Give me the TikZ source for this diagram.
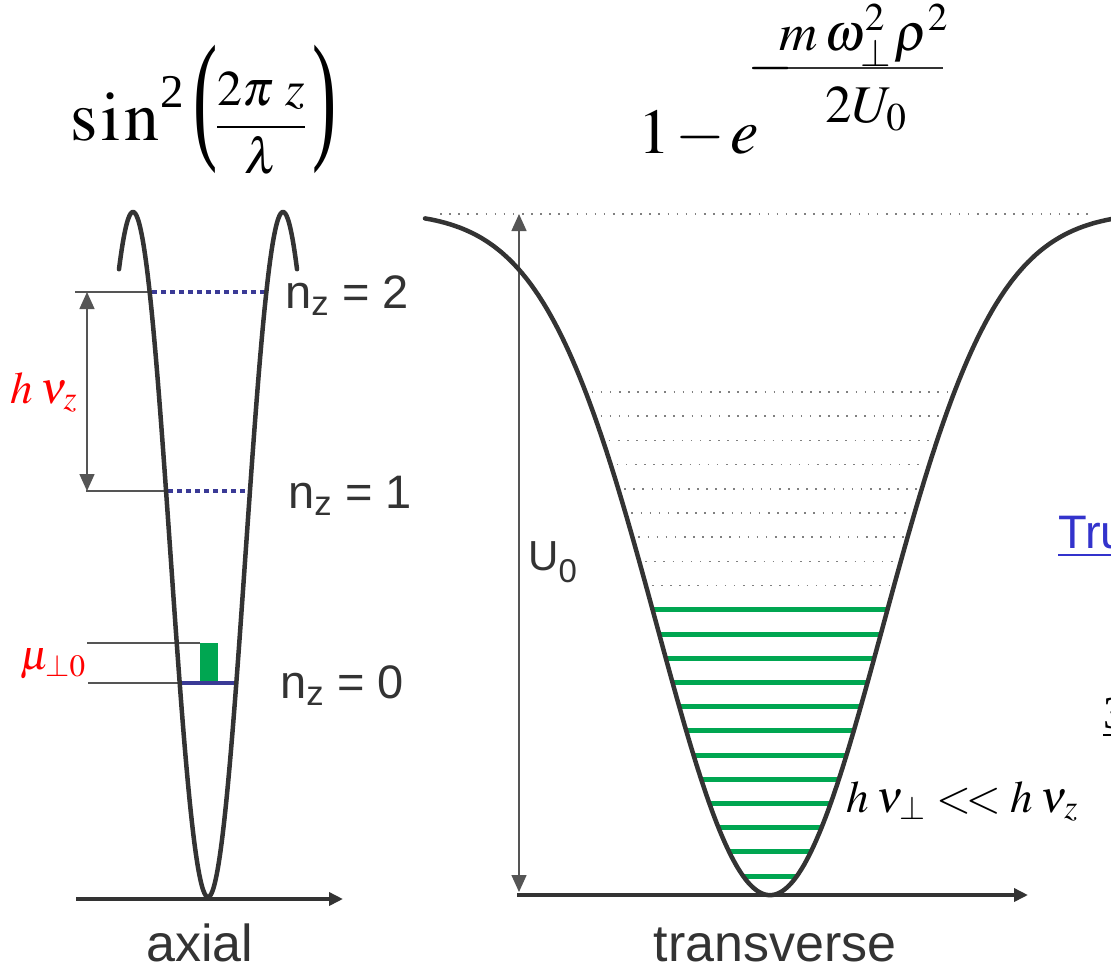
\documentclass[tikz,border=0pt]{standalone}
\usepackage{mathptmx}
\usepackage{fontspec}
\setmainfont{Liberation Serif}
\newfontfamily\arial{Liberation Sans}
\usetikzlibrary{arrows.meta}
\definecolor{curvec}{HTML}{333333}
\definecolor{navy}{HTML}{3A3A96}
\definecolor{grn}{HTML}{00A651}
\definecolor{linkblue}{HTML}{3333CC}
\definecolor{thin}{HTML}{555555}
\begin{document}
\begin{tikzpicture}[x=1pt,y=-1pt,
 well/.style={line width=4.5pt, color=curvec, line cap=round},
 axisline/.style={line width=4.5pt, color=curvec, -{Triangle[length=14pt,width=13pt]}},
 guide/.style={line width=1.3pt, color=thin},
 dimarrow/.style={line width=1.5pt, color=thin, {Triangle[length=17pt,width=15pt]}-{Triangle[length=17pt,width=15pt]}},
 bluedot/.style={line width=4pt, color=navy, dash pattern=on 5pt off 4pt},
 bluesolid/.style={line width=4pt, color=navy},
 graydot/.style={line width=1.6pt, color=gray, dash pattern=on 1.6pt off 7.5pt},
 greenlev/.style={line width=5pt, color=grn},
 lab/.style={font=\arial\fontsize{47}{52}\selectfont, text=curvec, inner sep=0pt},
 mth/.style={inner sep=0pt},
]
\useasboundingbox (0,0) rectangle (1111,972);

% ---------------- formulas ----------------
\node[mth, font=\fontsize{70}{76}\selectfont, anchor=base west] (sinf) at (70,140) {$\mathrm{s\mkern1mu i\mkern1mu n}$};
\node[mth, font=\fontsize{47}{52}\selectfont, anchor=base west] (sinsq) at (160,107) {2};
\node[mth, font=\fontsize{66}{72}\selectfont] (lpar) at (206,109) {\scalebox{1.1}[2.15]{(}};
\node[mth, font=\fontsize{50}{56}\selectfont, anchor=base] (frac) at (261,139) {$\displaystyle\frac{2\pi\mkern4mu z}{\lambda}$};
\node[mth, font=\fontsize{66}{72}\selectfont] (rpar) at (325,109) {\scalebox{1.1}[2.15]{)}};
\node[mth, font=\fontsize{64}{70}\selectfont, anchor=base west] (onee) at (638,153) {$1\mkern-1mu-\mkern-1mu e$};
\node[mth, font=\fontsize{60}{66}\selectfont] (eminus) at (771,68) {$-$};
\coordinate (barL) at (788,68); \coordinate (barR) at (943,68);
\draw[line width=2.4pt, color=curvec] (barL) -- (barR);
\node[mth, font=\fontsize{53}{58}\selectfont, anchor=base] (expnum) at (864,50) {$m\mkern2mu\omega_\perp^2\mkern1mu\rho^2$};
\node[mth, font=\fontsize{53}{58}\selectfont, anchor=base] (expden) at (866,122) {$2U_{0}$};

% ---------------- axial panel ----------------
\coordinate (n2g) at (75,292);  \coordinate (n2L) at (152,292); \coordinate (n2R) at (266,292);
\coordinate (n1g) at (86,491);  \coordinate (n1L) at (168,491); \coordinate (n1R) at (250,491);
\coordinate (n0g) at (88,683);  \coordinate (n0L) at (182,683); \coordinate (n0R) at (237,683);
\coordinate (mug) at (87,643);  \coordinate (mut) at (200,643);
\coordinate (a2) at (87,292);   \coordinate (a1) at (87,491);
\coordinate (axL) at (76,899);  \coordinate (axR) at (343,899);

\draw[guide] (n2g) -- (n2L);
\draw[guide] (n1g) -- (n1L);
\draw[guide] (n0g) -- (n0L);
\draw[guide] (mug) -- (mut);
\draw[dimarrow] (a2) -- (a1);
\fill[grn] (200,643) rectangle (218,681);
\draw[bluedot] (n2L) -- (n2R);
\draw[bluedot] (n1L) -- (n1R);
\draw[bluesolid] (n0L) -- (n0R);

\draw[well] plot[domain=119:297, samples=300, smooth] (\x, {212+342.5*(1+cos(2.4*(\x-208)))});
\draw[axisline] (axL) -- (axR);

\node[lab, anchor=base west] (lz2) at (285,308) {n\textsubscript{z} = 2};
\node[lab, anchor=base west] (lz1) at (288,508) {n\textsubscript{z} = 1};
\node[lab, anchor=base west] (lz0) at (280,698) {n\textsubscript{z} = 0};
\node[mth, anchor=base west, text=red, font=\fontsize{45}{50}\selectfont] (hnuz) at (10,403) {$h\mkern3mu\nu_z$};
\node[mth, anchor=base west, text=red, font=\fontsize{42}{50}\selectfont] (mu) at (20,669) {$\mu_{\perp0}$};
\node[lab, anchor=base, font=\arial\fontsize{52}{58}\selectfont] (axial) at (200,961) {axial};

% ---------------- transverse panel ----------------
\coordinate (topL) at (440,214); \coordinate (topR) at (1095,214);
\coordinate (u0t) at (519,214);  \coordinate (u0b) at (519,892);
\coordinate (txL) at (517,895);  \coordinate (txR) at (1028,895);

\draw[graydot] (topL) -- (topR);
\foreach \k in {12,...,20}{
  \pgfmathsetmacro{\yy}{876-24.2*\k}
  \pgfmathsetmacro{\dx}{159.67*sqrt(-ln(1-(895-\yy)/683))}
  \draw[graydot] ({770-\dx+6},\yy) -- ({770+\dx-4},\yy);
}
\foreach \k in {0,...,11}{
  \pgfmathsetmacro{\yy}{876-24.2*\k}
  \pgfmathsetmacro{\dx}{159.67*sqrt(-ln(1-(895-\yy)/683))}
  \draw[greenlev] ({770-\dx},\yy) -- ({770+\dx},\yy);
}
\draw[dimarrow] (u0t) -- (u0b);
\draw[well] plot[domain=425:1116, samples=400, smooth] (\x, {895-683*(1-exp(-((\x-770)/159.67)^2))});
\draw[axisline] (txL) -- (txR);

\node[lab, anchor=base west, font=\arial\fontsize{42}{46}\selectfont] (u0) at (528,570) {U\raisebox{-12pt}{\fontsize{33}{36}\selectfont 0}};
\node[mth, anchor=base west, font=\fontsize{45}{50}\selectfont] (rel) at (846,812) {$h\mkern3mu\nu_\perp \mathrel{<\mkern-2mu<} h\mkern3mu\nu_z$};
\node[lab, anchor=base, font=\arial\fontsize{52}{58}\selectfont] (trans) at (775,961) {transverse};

% ---------------- cut-off texts at right edge ----------------
\node[lab, anchor=base west, text=linkblue] (tru) at (1058,548) {\underline{Tru}};
\node[mth, anchor=base west, font=\fontsize{46}{52}\selectfont] (three) at (1103,728) {\underline{3}};
\end{tikzpicture}
\end{document}
